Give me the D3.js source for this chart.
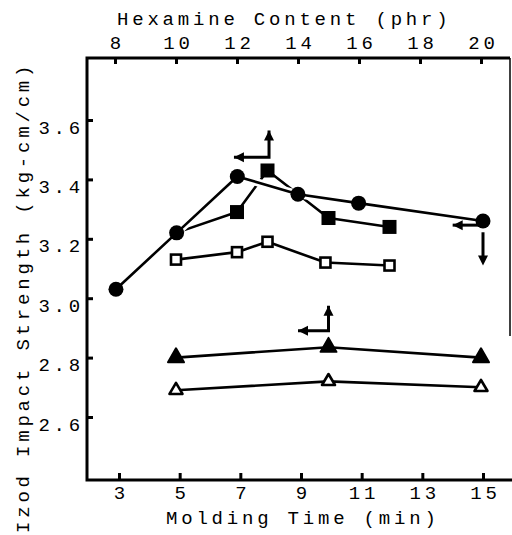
<!DOCTYPE html>
<html>
<head>
<meta charset="utf-8">
<script src="https://cdn.jsdelivr.net/npm/d3@7"></script>
<style>
  body { margin: 0; background: #fff; }
  text { font-family: "Liberation Mono", "DejaVu Sans Mono", monospace; font-size: 19px; letter-spacing: 3.8px; fill: #000; }
</style>
</head>
<body>
<script>
var timeTicks = [3, 5, 7, 9, 11, 13, 15];
var hexTicks = [8, 10, 12, 14, 16, 18, 20];
var strengthTicks = [2.6, 2.8, 3.0, 3.2, 3.4, 3.6];

// filled circles, read against molding time (bottom axis)
var circleTime = [2.9, 4.9, 6.9, 8.9, 10.9, 15.0];
var circleValue = [3.03, 3.22, 3.41, 3.35, 3.32, 3.26];

// filled squares, read against hexamine (top axis); 1st and 4th hide under a circle
var filledSqHex = [10, 12, 13, 14, 15, 17];
var filledSqValue = [3.22, 3.29, 3.43, 3.35, 3.27, 3.24];
var filledSqMarked = [false, true, true, false, true, true];

// open squares
var openSqHex = [10, 12, 13, 14.9, 17];
var openSqValue = [3.13, 3.155, 3.19, 3.12, 3.11];

// triangles
var filledTriHex = [10, 15, 20];
var filledTriValue = [2.80, 2.835, 2.80];
var openTriHex = [10, 15, 20];
var openTriValue = [2.69, 2.72, 2.70];

// axis hint arrows: [hex or time, value] points, tips at both ends
var arrowTopLeft = [[11.9, 3.475], [13.05, 3.475], [13.05, 3.565]];   // hexamine
var arrowTri = [[14.0, 2.89], [15.0, 2.89], [15.0, 2.975]];           // hexamine
var arrowCircleLeft = [[14.0, 3.246], [14.95, 3.246]];                // time
var arrowCircleDown = [[15.0, 3.222], [15.0, 3.11]];                  // time

var width = 512, height = 535,
    frame = { left: 87, top: 58, right: 510, bottom: 480 },
    spacing = 3.8;

var svg = d3.select("body").append("svg")
    .attr("width", width)
    .attr("height", height);

var xTime = d3.scaleLinear().domain([3, 15]).range([119, 483]);
var xHex = d3.scaleLinear().domain([8, 20]).range([115, 481]);
var y = d3.scaleLinear().domain([2.6, 3.6]).range([417, 120]);

// frame
svg.append("path")
    .attr("d", "M" + frame.right + "," + frame.top + "H" + frame.left + "V" + frame.bottom + "H" + (frame.right + 2))
    .attr("fill", "none")
    .attr("stroke", "#000")
    .attr("stroke-width", 3);
svg.append("line")
    .attr("x1", frame.right).attr("x2", frame.right)
    .attr("y1", frame.top).attr("y2", 336)
    .attr("stroke", "#000")
    .attr("stroke-width", 1.5);

function styleAxis(g) {
    g.attr("font-family", null).attr("font-size", null);
    g.select(".domain").remove();
    g.selectAll(".tick line").attr("stroke", "#000").attr("stroke-width", 3);
}

var leftAxis = svg.append("g")
    .attr("transform", "translate(" + frame.left + ",0)")
    .call(d3.axisLeft(y).tickValues(strengthTicks).tickSize(-6).tickPadding(3).tickFormat(d3.format(".1f")))
    .call(styleAxis);
leftAxis.selectAll(".tick text").attr("dy", "13px");

var topAxis = svg.append("g")
    .attr("transform", "translate(0," + frame.top + ")")
    .call(d3.axisTop(xHex).tickValues(hexTicks).tickSize(-6).tickPadding(9))
    .call(styleAxis);
topAxis.selectAll(".tick text").attr("dx", spacing / 2);

var bottomAxis = svg.append("g")
    .attr("transform", "translate(0," + frame.bottom + ")")
    .call(d3.axisBottom(xTime).tickValues(timeTicks).tickSize(-7).tickPadding(4))
    .call(styleAxis);
bottomAxis.selectAll(".tick text").attr("dx", spacing / 2).attr("dy", "15px");

// titles
svg.append("text").attr("x", 117).attr("y", 25).text("Hexamine Content (phr)");
svg.append("text").attr("x", 166).attr("y", 524).text("Molding Time (min)");
svg.append("text")
    .attr("transform", "translate(29,533) rotate(-90)")
    .text("Izod Impact Strength (kg-cm/cm)");

// lines
var line = d3.line();
function pts(xs, vs, sx) { return xs.map(function(v, i) { return [sx(v), y(vs[i])]; }); }

function drawLine(points) {
    svg.append("path")
        .attr("d", line(points))
        .attr("fill", "none")
        .attr("stroke", "#000")
        .attr("stroke-width", 2.6)
        .attr("stroke-linejoin", "round");
}

drawLine(pts(filledSqHex, filledSqValue, xHex));
drawLine(pts(openSqHex, openSqValue, xHex));
drawLine(pts(filledTriHex, filledTriValue, xHex));
drawLine(pts(openTriHex, openTriValue, xHex));

// circle line sits over the square line with a white gap where they cross
svg.append("path")
    .attr("d", line(pts(circleTime, circleValue, xTime)))
    .attr("fill", "none")
    .attr("stroke", "#fff")
    .attr("stroke-width", 8);
drawLine(pts(circleTime, circleValue, xTime));

// markers
pts(circleTime, circleValue, xTime).forEach(function(p) {
    svg.append("circle").attr("cx", p[0]).attr("cy", p[1]).attr("r", 7.5).attr("fill", "#000");
});

pts(filledSqHex, filledSqValue, xHex).forEach(function(p, i) {
    if (!filledSqMarked[i]) return;
    svg.append("rect").attr("x", p[0] - 7).attr("y", p[1] - 7).attr("width", 14).attr("height", 14).attr("fill", "#000");
});

pts(openSqHex, openSqValue, xHex).forEach(function(p) {
    svg.append("rect").attr("x", p[0] - 5).attr("y", p[1] - 5).attr("width", 10).attr("height", 10)
        .attr("fill", "#fff").attr("stroke", "#000").attr("stroke-width", 2.6);
});

function triangle(p, w, h) {
    return "M" + p[0] + "," + (p[1] - h * 2 / 3) +
        "L" + (p[0] + w / 2) + "," + (p[1] + h / 3) +
        "L" + (p[0] - w / 2) + "," + (p[1] + h / 3) + "Z";
}

pts(filledTriHex, filledTriValue, xHex).forEach(function(p) {
    svg.append("path").attr("d", triangle(p, 16, 14)).attr("fill", "#000")
        .attr("stroke", "#000").attr("stroke-width", 2).attr("stroke-linejoin", "round");
});

pts(openTriHex, openTriValue, xHex).forEach(function(p) {
    svg.append("path").attr("d", triangle(p, 13, 11)).attr("fill", "#fff")
        .attr("stroke", "#000").attr("stroke-width", 2.6).attr("stroke-linejoin", "round");
});

// arrows
function arrowHead(from, to) {
    var dx = to[0] - from[0], dy = to[1] - from[1], len = Math.sqrt(dx * dx + dy * dy);
    var ux = dx / len, uy = dy / len, L = 10, W = 5;
    var bx = to[0] - ux * L, by = to[1] - uy * L;
    svg.append("path")
        .attr("d", "M" + to[0] + "," + to[1] + "L" + (bx - uy * W) + "," + (by + ux * W) + "L" + (bx + uy * W) + "," + (by - ux * W) + "Z")
        .attr("fill", "#000");
}

function drawArrow(data, sx) {
    var p = data.map(function(d) { return [sx(d[0]), y(d[1])]; });
    var n = p.length;
    svg.append("path")
        .attr("d", line(p))
        .attr("fill", "none")
        .attr("stroke", "#000")
        .attr("stroke-width", 3);
    arrowHead(p[1], p[0]);
    if (n > 2) arrowHead(p[n - 2], p[n - 1]);
}

drawArrow(arrowTopLeft, xHex);
drawArrow(arrowTri, xHex);
drawArrow(arrowCircleLeft, xTime);
var down = arrowCircleDown.map(function(d) { return [xTime(d[0]), y(d[1])]; });
svg.append("line")
    .attr("x1", down[0][0]).attr("y1", down[0][1])
    .attr("x2", down[1][0]).attr("y2", down[1][1] - 6)
    .attr("stroke", "#000").attr("stroke-width", 3);
arrowHead(down[0], down[1]);
</script>
</body>
</html>
